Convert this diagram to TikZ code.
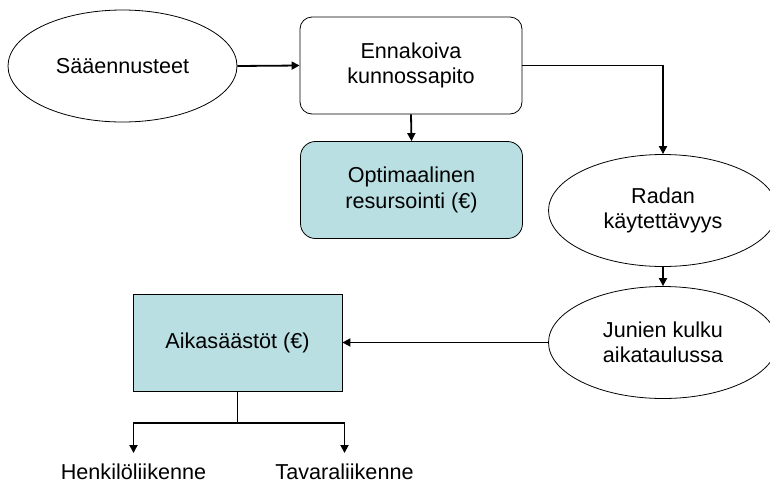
\documentclass[tikz,border=0pt]{standalone}
\usepackage{fontspec}
\setmainfont{Liberation Sans}
\usetikzlibrary{shapes.geometric,arrows.meta}
\definecolor{boxfill}{RGB}{185,223,226}
\begin{document}
\begin{tikzpicture}[x=1pt,y=-1pt,
  every node/.style={font=\fontsize{21.6}{25.5}\selectfont, align=center, text=black},
  oval/.style={ellipse, draw, line width=0.8pt, inner sep=0pt,
    minimum width=229pt, minimum height=112pt},
  rbox/.style={draw, rounded corners=12pt, line width=0.8pt, inner sep=0pt,
    minimum width=222pt, minimum height=97pt},
  sbox/.style={draw, fill=boxfill, line width=0.8pt, inner sep=0pt,
    minimum width=209pt, minimum height=97pt},
  conn/.style={line width=1.8pt},
  arr/.style={conn, -{Triangle[length=8pt,width=8pt]}}
]
\useasboundingbox (0,0) rectangle (770,483);
\clip (0,0) rectangle (770,483);

% process nodes
\node[oval] (saa) at (122.5,66) {Sääennusteet};
\node[rbox] (enn) at (411,65.5) {Ennakoiva\\kunnossapito};
\node[rbox, fill=boxfill, rounded corners=15pt] (opt) at (411.5,190) {Optimaalinen\\resursointi (€)};
\node[oval] (rad) at (663,210.5) {Radan\\käytettävyys};
\node[oval] (jun) at (663,342.5) {Junien kulku\\aikataulussa};
\node[sbox] (aik) at (237.5,342.5) {Aikasäästöt (€)};

% traffic type labels
\node[anchor=base] (hen) at (133.5,479) {Henkilöliikenne};
\node[anchor=base] (tav) at (344.5,479) {Tavaraliikenne};

% branch points
\coordinate (sp) at (237.5,423);
\coordinate (hend) at (133.5,453);
\coordinate (tend) at (344.5,453);

% connectors
\draw[arr] (saa.east) -- (enn.west);
\draw[arr] (enn.south) -- (opt.north);
\draw[arr] (enn.east) -| (rad.north);
\draw[arr] (rad.south) -- (jun.north);
\draw[arr] (jun.west) -- (aik.east);
\draw[conn] (aik.south) -- (sp);
\draw[arr] (sp) -| (hend);
\draw[arr] (sp) -| (tend);
\end{tikzpicture}
\end{document}
